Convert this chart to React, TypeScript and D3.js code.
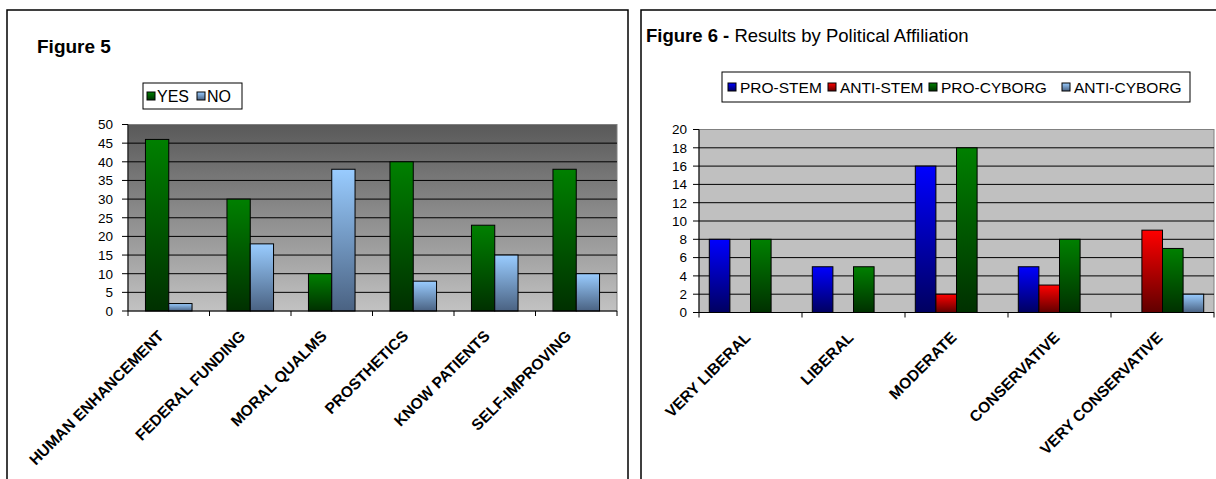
import React from 'react';
import * as d3 from 'd3';

// ---------- Figure 5 data ----------
const fig5Categories = ['HUMAN ENHANCEMENT', 'FEDERAL FUNDING', 'MORAL QUALMS', 'PROSTHETICS', 'KNOW PATIENTS', 'SELF-IMPROVING'];
const fig5Series = ['YES', 'NO'];
const fig5Yes = [46, 30, 10, 40, 23, 38];
const fig5No = [2, 18, 38, 8, 15, 10];
const fig5Ticks = [0, 5, 10, 15, 20, 25, 30, 35, 40, 45, 50];

// ---------- Figure 6 data ----------
const fig6Categories = ['VERY LIBERAL', 'LIBERAL', 'MODERATE', 'CONSERVATIVE', 'VERY CONSERVATIVE'];
const fig6Series = ['PRO-STEM', 'ANTI-STEM', 'PRO-CYBORG', 'ANTI-CYBORG'];
const fig6ProStem = [8, 5, 16, 5, 0];
const fig6AntiStem = [0, 0, 2, 3, 9];
const fig6ProCyborg = [8, 5, 18, 8, 7];
const fig6AntiCyborg = [0, 0, 0, 0, 2];
const fig6Ticks = [0, 2, 4, 6, 8, 10, 12, 14, 16, 18, 20];

const FONT = '"Liberation Sans", Arial, Helvetica, sans-serif';

const gradients: Record<string, [string, string]> = {
  green: ['#008000', '#003000'],
  lightblue: ['#99ccff', '#4a6282'],
  blue: ['#0000ff', '#000060'],
  red: ['#ff0000', '#600000'],
};

type ChartProps = {
  categories: string[];
  series: string[];
  values: number[][];
  colors: string[];
  ticks: number[];
  yMax: number;
  x0: number; x1: number; y0: number; y1: number;
  gap: number;
  bg: string;
  labelFont: number;
  labelDx: number;
  tickGap: number;
};

function BarChart(p: ChartProps) {
  const x = d3.scaleBand<string>().domain(p.categories).range([p.x0, p.x1]).paddingInner(0).paddingOuter(0);
  const y = d3.scaleLinear().domain([0, p.yMax]).range([p.y1, p.y0]);
  const step = x.step();
  const bw = step / (p.series.length + p.gap);
  const inner = d3.scaleBand<string>().domain(p.series).range([(p.gap * bw) / 2, step - (p.gap * bw) / 2]);
  const boundaries = d3.range(p.categories.length + 1).map((i) => p.x0 + i * step);
  return (
    <g>
      <rect x={p.x0} y={p.y0} width={p.x1 - p.x0} height={p.y1 - p.y0} fill={p.bg} stroke="#808080" strokeWidth={1} />
      {p.ticks.filter((t) => t !== 0 && t !== p.yMax).map((t) => (
        <line key={'g' + t} x1={p.x0} x2={p.x1} y1={y(t)} y2={y(t)} stroke="#000" strokeWidth={1} />
      ))}
      {p.categories.map((c, ci) => (
        <g key={c}>
          {p.series.map((s, si) => {
            const v = p.values[si][ci];
            if (!v) return null;
            return (
              <rect key={s} x={(x(c) as number) + (inner(s) as number)} y={y(v)} width={inner.bandwidth()} height={y(0) - y(v)}
                fill={`url(#grad-${p.colors[si]})`} stroke="#000" strokeWidth={1} />
            );
          })}
        </g>
      ))}
      <line x1={p.x0} x2={p.x0} y1={p.y0} y2={p.y1} stroke="#000" strokeWidth={1} />
      <line x1={p.x0} x2={p.x1} y1={p.y1} y2={p.y1} stroke="#000" strokeWidth={1} />
      {p.ticks.map((t) => (
        <g key={'t' + t}>
          <line x1={p.x0 - 6} x2={p.x0} y1={y(t)} y2={y(t)} stroke="#000" />
          <text x={p.x0 - p.tickGap} y={y(t)} dy="0.36em" textAnchor="end" fontSize={13.5} fontFamily={FONT}>{t}</text>
        </g>
      ))}
      {boundaries.map((bx, i) => (
        <line key={'b' + i} x1={bx} x2={bx} y1={p.y1} y2={p.y1 + 5} stroke="#000" />
      ))}
      {p.categories.map((c) => {
        const cx = (x(c) as number) + step / 2 + p.labelDx;
        return (
          <text key={'l' + c} transform={`translate(${cx},${p.y1 + 26}) rotate(-45)`} textAnchor="end"
            fontSize={p.labelFont} fontWeight="bold" fontFamily={FONT}>{c}</text>
        );
      })}
    </g>
  );
}

const legend6Offsets = [6, 106, 207, 340];
const legend6Colors = ['blue', 'red', 'green', 'lightblue'];

export default function App() {
  return (
    <svg width={1216} height={479} style={{ position: 'absolute', left: 0, top: 0, background: '#fff' }}>
      <defs>
        {Object.entries(gradients).map(([k, [a, b]]) => (
          <linearGradient key={k} id={`grad-${k}`} x1="0" y1="0" x2="0" y2="1">
            <stop offset="0" stopColor={a} />
            <stop offset="1" stopColor={b} />
          </linearGradient>
        ))}
        <linearGradient id="plotbg5" x1="0" y1="0" x2="0" y2="1">
          <stop offset="0" stopColor="#595959" />
          <stop offset="1" stopColor="#c2c2c2" />
        </linearGradient>
      </defs>
      <rect width={1216} height={479} fill="#fff" />

      {/* Figure 5 frame */}
      <rect x={7} y={10} width={621} height={500} fill="#fff" stroke="#000" strokeWidth={1.5} />
      <text x={37} y={53} fontSize={19} fontWeight="bold" fontFamily={FONT}>Figure 5</text>
      <g>
        <rect x={143} y={83} width={99} height={26} fill="#fff" stroke="#000" strokeWidth={1} />
        <rect x={147} y={92} width={8} height={8} fill="url(#grad-green)" stroke="#000" />
        <text x={157} y={96} dy="0.36em" fontSize={16} fontFamily={FONT}>YES</text>
        <rect x={197} y={92} width={8} height={8} fill="url(#grad-lightblue)" stroke="#000" />
        <text x={207} y={96} dy="0.36em" fontSize={16} fontFamily={FONT}>NO</text>
      </g>
      <BarChart categories={fig5Categories} series={fig5Series} values={[fig5Yes, fig5No]} colors={['green', 'lightblue']}
        ticks={fig5Ticks} yMax={50} x0={128} x1={617} y0={124.5} y1={311} gap={1.5} bg="url(#plotbg5)"
        labelFont={15.5} labelDx={-4} tickGap={15} />

      {/* Figure 6 frame */}
      <rect x={641} y={10} width={600} height={500} fill="#fff" stroke="#000" strokeWidth={1.5} />
      <text x={646} y={42} fontSize={18.5} fontFamily={FONT}>
        <tspan fontWeight="bold">Figure 6 - </tspan>
        <tspan>Results by Political Affiliation</tspan>
      </text>
      <g>
        <rect x={722} y={72} width={468} height={30} fill="#fff" stroke="#000" strokeWidth={1} />
        {fig6Series.map((s, i) => (
          <g key={s}>
            <rect x={722 + legend6Offsets[i]} y={83} width={8} height={8} fill={`url(#grad-${legend6Colors[i]})`} stroke="#000" />
            <text x={722 + legend6Offsets[i] + 12} y={87} dy="0.36em" fontSize={15.5} fontFamily={FONT}>{s}</text>
          </g>
        ))}
      </g>
      <BarChart categories={fig6Categories} series={fig6Series} values={[fig6ProStem, fig6AntiStem, fig6ProCyborg, fig6AntiCyborg]}
        colors={legend6Colors} ticks={fig6Ticks} yMax={20} x0={699} x1={1214} y0={129.5} y1={312.5}
        gap={1} bg="#c0c0c0" labelFont={15.5} labelDx={1} tickGap={12} />
    </svg>
  );
}
